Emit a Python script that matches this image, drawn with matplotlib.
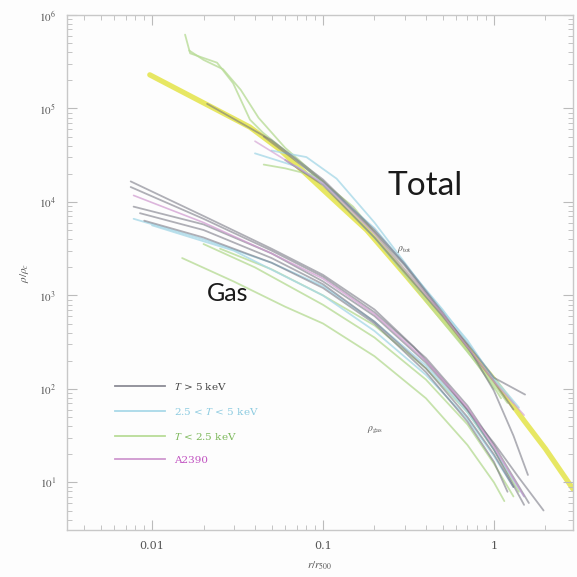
import numpy as np
import matplotlib
matplotlib.use("Agg")
import matplotlib.pyplot as plt
from matplotlib.lines import Line2D
from matplotlib.ticker import LogLocator, FixedLocator, NullFormatter

plt.rcParams['mathtext.fontset'] = 'stix'

# ---------------- data (r/r500 and log10 rho/rho_c) ----------------
model_x = [0.0097, 0.02, 0.0374, 0.056, 0.1, 0.18, 0.3, 0.5, 0.83, 1.0, 1.5, 2.0, 2.9]
model_logrho = [5.36, 5.06, 4.80, 4.56, 4.13, 3.70, 3.23, 2.75, 2.28, 2.10, 1.66, 1.36, 0.93]

# Total mass density profiles
tot_hot_x = [
    [0.021, 0.05, 0.1, 0.2, 0.3, 0.5, 0.7, 1.0, 1.3, 1.58],
    [0.045, 0.1, 0.2, 0.3, 0.5, 0.7, 1.0, 1.52],
    [0.06, 0.1, 0.2, 0.5, 1.0, 1.3],
]
tot_hot_logrho = [
    [5.05, 4.66, 4.24, 3.70, 3.34, 2.82, 2.46, 1.98, 1.50, 1.08],
    [4.70, 4.22, 3.68, 3.32, 2.80, 2.48, 2.12, 1.94],
    [4.45, 4.18, 3.62, 2.78, 2.08, 1.78],
]
tot_mid_x = [
    [0.05, 0.08, 0.12, 0.2, 0.4, 0.7, 1.0, 1.3],
    [0.04, 0.07, 0.1, 0.2, 0.5, 1.0, 1.4],
]
tot_mid_logrho = [
    [4.55, 4.48, 4.25, 3.78, 3.05, 2.52, 2.10, 1.85],
    [4.52, 4.38, 4.20, 3.72, 2.85, 2.12, 1.80],
]
tot_cool_x = [
    [0.0156, 0.0167, 0.024, 0.0298, 0.0374, 0.0446, 0.07, 0.1, 0.2, 0.5, 1.0, 1.2],
    [0.0165, 0.02, 0.026, 0.033, 0.042, 0.06, 0.1, 0.2, 0.5, 1.0, 1.1],
    [0.045, 0.06, 0.09, 0.15, 0.3, 0.6, 1.0],
]
tot_cool_logrho = [
    [5.79, 5.59, 5.49, 5.27, 4.88, 4.74, 4.45, 4.20, 3.62, 2.72, 2.05, 1.85],
    [5.62, 5.52, 5.42, 5.20, 4.90, 4.58, 4.22, 3.66, 2.76, 2.02, 1.90],
    [4.40, 4.36, 4.28, 3.95, 3.28, 2.62, 2.00],
]
tot_a2390_x = [0.04, 0.1, 0.2, 0.5, 1.0, 1.5]
tot_a2390_logrho = [4.65, 4.20, 3.66, 2.80, 2.08, 1.72]

# Gas density profiles
gas_hot_x = [
    [0.0075, 0.02, 0.05, 0.1, 0.2, 0.34, 0.53, 1.0, 1.4, 1.95],
    [0.0075, 0.02, 0.05, 0.1, 0.2, 0.4, 0.7, 1.0, 1.6],
    [0.0078, 0.02, 0.05, 0.1, 0.2, 0.4, 0.7, 1.0, 1.5],
    [0.0085, 0.02, 0.05, 0.1, 0.2, 0.4, 0.7, 1.0, 1.3],
    [0.009, 0.02, 0.05, 0.1, 0.2, 0.4, 0.7, 1.0, 1.2],
]
gas_hot_logrho = [
    [4.22, 3.85, 3.50, 3.22, 2.85, 2.45, 2.05, 1.42, 1.05, 0.70],
    [4.16, 3.82, 3.48, 3.20, 2.82, 2.33, 1.82, 1.40, 0.78],
    [3.95, 3.76, 3.45, 3.15, 2.78, 2.28, 1.78, 1.35, 0.76],
    [3.88, 3.70, 3.40, 3.12, 2.72, 2.22, 1.70, 1.30, 0.95],
    [3.80, 3.62, 3.35, 3.08, 2.70, 2.18, 1.65, 1.22, 0.90],
]
gas_mid_x = [
    [0.0078, 0.02, 0.05, 0.1, 0.2, 0.4, 0.7, 1.0, 1.5],
    [0.01, 0.03, 0.1, 0.2, 0.4, 0.7, 1.0, 1.3],
]
gas_mid_logrho = [
    [3.82, 3.60, 3.35, 3.10, 2.72, 2.25, 1.75, 1.35, 0.85],
    [3.75, 3.48, 3.00, 2.62, 2.15, 1.68, 1.28, 0.95],
]
gas_cool_x = [
    [0.015, 0.03, 0.06, 0.1, 0.2, 0.4, 0.7, 1.0, 1.15],
    [0.02, 0.04, 0.1, 0.2, 0.4, 0.7, 1.0, 1.3],
    [0.025, 0.05, 0.1, 0.2, 0.4, 0.7, 1.0, 1.4],
]
gas_cool_logrho = [
    [3.40, 3.15, 2.88, 2.70, 2.35, 1.90, 1.40, 1.00, 0.80],
    [3.55, 3.30, 2.90, 2.55, 2.10, 1.62, 1.20, 0.85],
    [3.50, 3.28, 3.00, 2.68, 2.22, 1.75, 1.35, 0.90],
]
gas_a2390_x = [0.0078, 0.02, 0.05, 0.1, 0.2, 0.4, 0.7, 1.0, 1.5]
gas_a2390_logrho = [4.07, 3.78, 3.45, 3.18, 2.80, 2.30, 1.80, 1.38, 0.85]

legend_labels = [r'$T$ > 5 keV', r'2.5 < $T$ < 5 keV', r'$T$ < 2.5 keV', 'A2390']
x_tick_vals = [0.01, 0.1, 1]
x_tick_labels = ['0.01', '0.1', '1']
y_tick_exps = [1, 2, 3, 4, 5, 6]

# ---------------- style ----------------
c_hot = '#6f6f7c'
c_mid = '#a9d9e8'
c_cool = '#b9dc98'
c_a2390 = '#cf98cf'
c_model = '#e4e448'

fig = plt.figure(figsize=(5.77, 5.77), dpi=100)
fig.patch.set_facecolor('#fdfdfd')
ax = fig.add_axes([0.1161, 0.0815, 0.877, 0.8925])
ax.set_facecolor('#fdfdfd')
ax.set_xscale('log')
ax.set_yscale('log')
ax.set_xlim(0.00318, 2.90)
ax.set_ylim(3.1, 1e6)

def draw(xs_list, ys_list, color, lw, alpha):
    for xs, ys in zip(xs_list, ys_list):
        ax.plot(xs, 10 ** np.asarray(ys), color=color, lw=lw, alpha=alpha,
                solid_capstyle='round', solid_joinstyle='round')

draw(gas_cool_x, gas_cool_logrho, c_cool, 1.3, 0.8)
draw(gas_mid_x, gas_mid_logrho, c_mid, 1.3, 0.8)
draw(gas_hot_x, gas_hot_logrho, c_hot, 1.3, 0.55)
draw([gas_a2390_x], [gas_a2390_logrho], c_a2390, 1.2, 0.7)

draw(tot_cool_x, tot_cool_logrho, c_cool, 1.3, 0.8)
draw(tot_mid_x, tot_mid_logrho, c_mid, 1.3, 0.8)
draw(tot_hot_x, tot_hot_logrho, c_hot, 1.3, 0.55)
draw([tot_a2390_x], [tot_a2390_logrho], c_a2390, 1.2, 0.6)

ax.plot(model_x, 10 ** np.asarray(model_logrho), color=c_model, lw=3.8, alpha=0.85,
        solid_capstyle='round', zorder=1)

# ticks
ax.xaxis.set_major_locator(FixedLocator(x_tick_vals))
ax.set_xticklabels(x_tick_labels)
ax.xaxis.set_minor_locator(LogLocator(base=10, subs=np.arange(2, 10)))
ax.xaxis.set_minor_formatter(NullFormatter())
ax.yaxis.set_major_locator(FixedLocator([10.0 ** e for e in y_tick_exps]))
ax.set_yticklabels([r'$10^{%d}$' % e for e in y_tick_exps])
ax.yaxis.set_minor_locator(LogLocator(base=10, subs=np.arange(2, 10)))
ax.yaxis.set_minor_formatter(NullFormatter())
ax.tick_params(which='both', direction='in', top=True, right=True, color='#bbbbbb')
ax.tick_params(which='major', length=7, width=0.8, labelsize=8, labelcolor='#555555', pad=8)
ax.tick_params(which='minor', length=3.5, width=0.6)
for lab in ax.get_xticklabels() + ax.get_yticklabels():
    lab.set_fontfamily('DejaVu Serif')
for s in ax.spines.values():
    s.set_color('#c8c8c8')
    s.set_linewidth(1.0)

ax.set_xlabel(r'$r/r_{500}$', fontsize=8, color='#555555', labelpad=6)
ax.set_ylabel(r'$\rho/\rho_c$', fontsize=8, color='#555555', labelpad=6)

# annotations
ax.text(0.707, 0.668, 'Total', transform=ax.transAxes, fontsize=24,
        family='Lato', fontweight='normal', color='#1a1a1a', ha='center', va='center')
ax.text(0.318, 0.460, 'Gas', transform=ax.transAxes, fontsize=18,
        family='Lato', fontweight='normal', color='#1a1a1a', ha='center', va='center')
ax.text(0.666, 0.544, r'$\rho_{\rm tot}$', transform=ax.transAxes, fontsize=7,
        color='#555555', ha='center', va='center')
ax.text(0.609, 0.194, r'$\rho_{\rm gas}$', transform=ax.transAxes, fontsize=7,
        color='#555555', ha='center', va='center')

# legend
handles = [Line2D([], [], color=c_hot, lw=1.3, alpha=0.8),
           Line2D([], [], color=c_mid, lw=1.3),
           Line2D([], [], color=c_cool, lw=1.3),
           Line2D([], [], color=c_a2390, lw=1.3)]
leg = ax.legend(handles, legend_labels, loc='upper left', bbox_to_anchor=(0.095, 0.29),
                frameon=False, fontsize=7.5, handlelength=4.8, handletextpad=0.9,
                labelspacing=1.35, borderpad=0, borderaxespad=0,
                labelcolor=['#444444', '#8ccbe0', '#7cb85a', '#c050c0'],
                prop={'family': 'DejaVu Serif', 'size': 7.5})

fig.savefig('out.png', dpi=100, facecolor=fig.get_facecolor())
